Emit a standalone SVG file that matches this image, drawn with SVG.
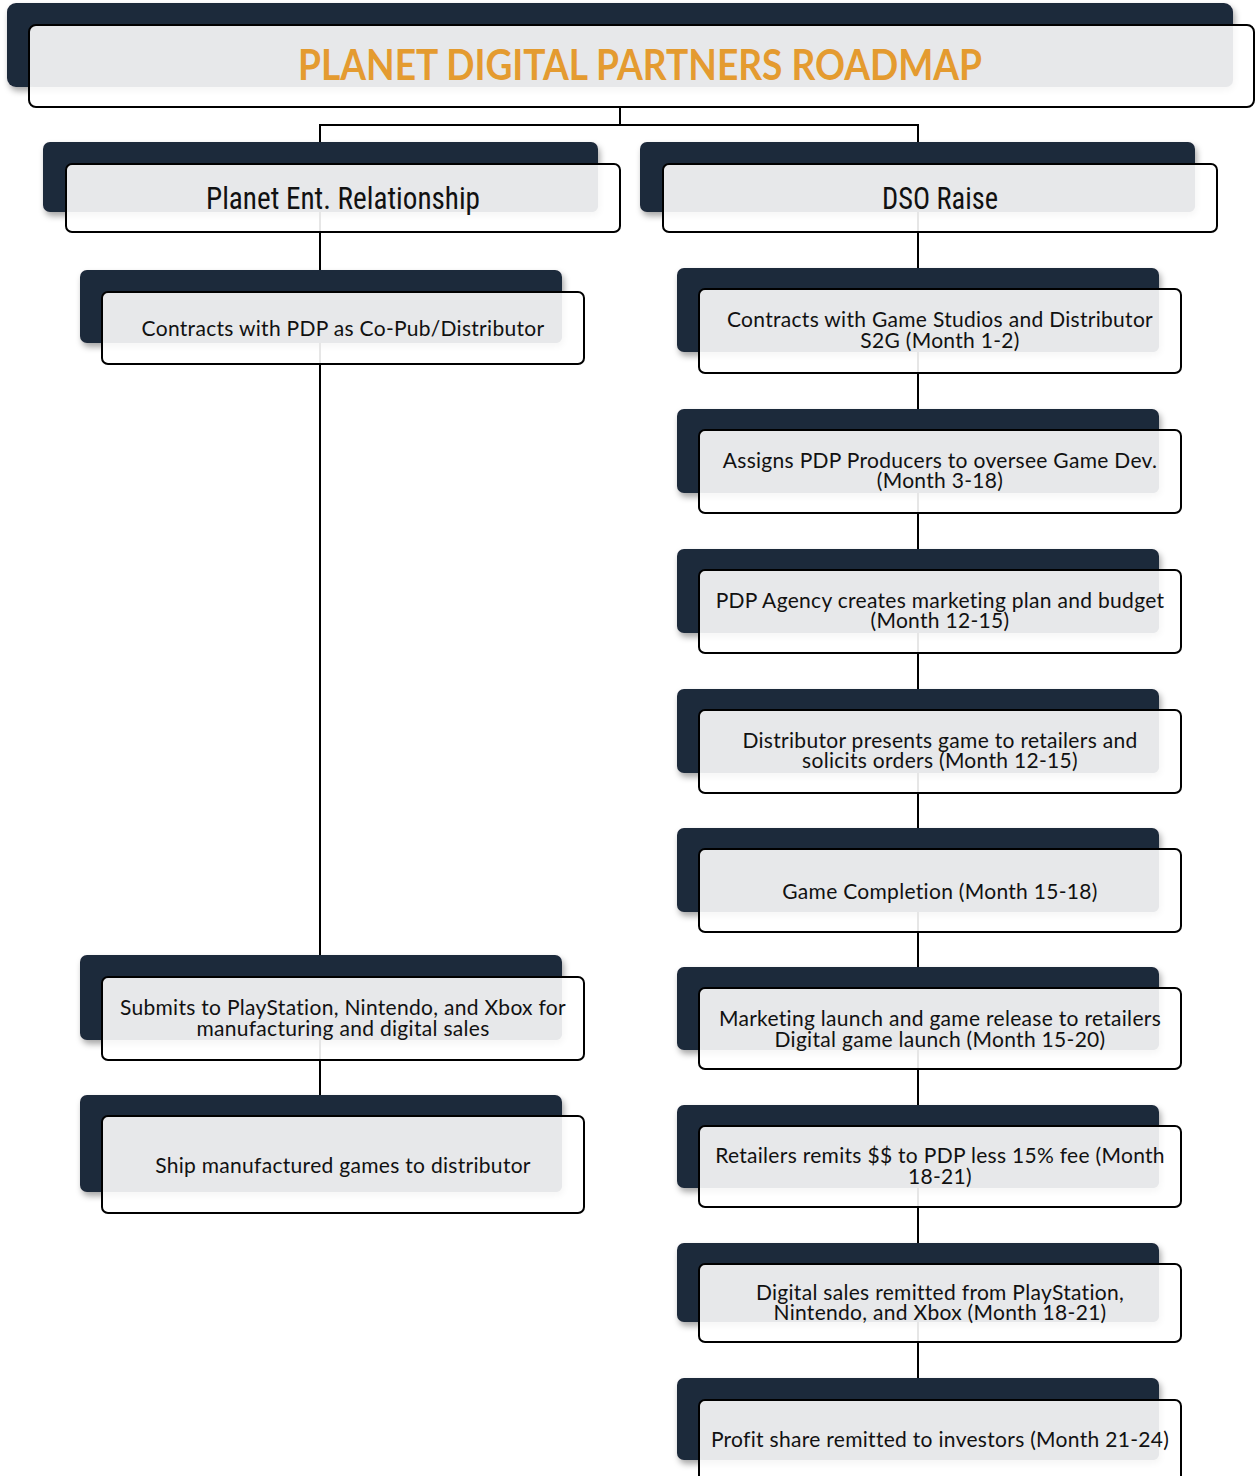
<svg xmlns="http://www.w3.org/2000/svg" width="1255" height="1476" viewBox="0 0 1255 1476">
<defs>
<filter id="sh" x="-10%" y="-20%" width="120%" height="160%">
<feDropShadow dx="2" dy="4" stdDeviation="3" flood-color="#000" flood-opacity="0.35"/>
</filter>
<style>
.dk{fill:#1e293b;filter:url(#sh)}
.wf{fill:#ffffff;fill-opacity:0.9}
.gr{fill:#e6e7e9;fill-opacity:0.92}
.ol{fill:none;stroke:#000;stroke-width:2}
.t{font-family:Lato,"Noto Sans",sans-serif;font-size:21px;letter-spacing:0.3px;fill:#111;text-anchor:middle}
.h{font-family:"Liberation Sans Narrow","Roboto Condensed",Roboto,sans-serif;font-size:31px;fill:#111;text-anchor:middle}
.ttl{font-family:Lato,"Liberation Sans",sans-serif;font-weight:700;font-size:42px;fill:#e49b30;text-anchor:middle}
.c{stroke:#000;stroke-width:2;fill:none}
</style>
</defs>
<rect width="1255" height="1476" fill="#fff"/>
<g id="connectors">
<path class="c" d="M620,106V125M320,125H918M320,124V1116M918,124V1400"/>
</g>
<g id="title">
<rect class="dk" x="7" y="3" width="1226" height="84" rx="9"/>
<rect class="wf" x="29" y="25" width="1225" height="82" rx="7"/>
<rect class="gr" x="29" y="25" width="1204" height="62" rx="7"/>
<rect class="ol" x="29" y="25" width="1225" height="82" rx="7"/>
<text class="ttl" x="640" y="80" textLength="684" lengthAdjust="spacingAndGlyphs">PLANET DIGITAL PARTNERS ROADMAP</text>
</g>
<g id="n-planet">
<rect class="dk" x="43" y="142" width="555" height="70" rx="7"/>
<rect class="wf" x="66" y="164" width="554" height="68" rx="6"/>
<rect class="gr" x="66" y="164" width="532" height="48" rx="6"/>
<rect class="ol" x="66" y="164" width="554" height="68" rx="6"/>
<text class="h" x="343" y="209" textLength="274" lengthAdjust="spacingAndGlyphs">Planet Ent. Relationship</text>
</g>
<g id="n-dso">
<rect class="dk" x="640" y="142" width="555" height="70" rx="7"/>
<rect class="wf" x="663" y="164" width="554" height="68" rx="6"/>
<rect class="gr" x="663" y="164" width="532" height="48" rx="6"/>
<rect class="ol" x="663" y="164" width="554" height="68" rx="6"/>
<text class="h" x="940" y="209" textLength="116" lengthAdjust="spacingAndGlyphs">DSO Raise</text>
</g>
<g id="l1">
<rect class="dk" x="80" y="270" width="482" height="73" rx="7"/>
<rect class="wf" x="102" y="292" width="482" height="72" rx="6"/>
<rect class="gr" x="102" y="292" width="460" height="51" rx="6"/>
<rect class="ol" x="102" y="292" width="482" height="72" rx="6"/>
<text class="t" x="343" y="336">Contracts with PDP as Co-Pub/Distributor</text>
</g>
<g id="l2">
<rect class="dk" x="80" y="955" width="482" height="85" rx="7"/>
<rect class="wf" x="102" y="977" width="482" height="83" rx="6"/>
<rect class="gr" x="102" y="977" width="460" height="63" rx="6"/>
<rect class="ol" x="102" y="977" width="482" height="83" rx="6"/>
<text class="t" x="343" y="1015">Submits to PlayStation, Nintendo, and Xbox for</text>
<text class="t" x="343" y="1036">manufacturing and digital sales</text>
</g>
<g id="l3">
<rect class="dk" x="80" y="1095" width="482" height="97" rx="7"/>
<rect class="wf" x="102" y="1116" width="482" height="97" rx="6"/>
<rect class="gr" x="102" y="1116" width="460" height="76" rx="6"/>
<rect class="ol" x="102" y="1116" width="482" height="97" rx="6"/>
<text class="t" x="343" y="1173">Ship manufactured games to distributor</text>
</g>
<g id="r1">
<rect class="dk" x="677" y="268" width="482" height="84" rx="7"/>
<rect class="wf" x="699" y="289" width="482" height="84" rx="6"/>
<rect class="gr" x="699" y="289" width="460" height="63" rx="6"/>
<rect class="ol" x="699" y="289" width="482" height="84" rx="6"/>
<text class="t" x="940" y="327">Contracts with Game Studios and Distributor</text>
<text class="t" x="940" y="348">S2G (Month 1-2)</text>
</g>
<g id="r2">
<rect class="dk" x="677" y="409" width="482" height="84" rx="7"/>
<rect class="wf" x="699" y="430" width="482" height="83" rx="6"/>
<rect class="gr" x="699" y="430" width="460" height="63" rx="6"/>
<rect class="ol" x="699" y="430" width="482" height="83" rx="6"/>
<text class="t" x="940" y="468">Assigns PDP Producers to oversee Game Dev.</text>
<text class="t" x="940" y="488">(Month 3-18)</text>
</g>
<g id="r3">
<rect class="dk" x="677" y="549" width="482" height="84" rx="7"/>
<rect class="wf" x="699" y="570" width="482" height="83" rx="6"/>
<rect class="gr" x="699" y="570" width="460" height="63" rx="6"/>
<rect class="ol" x="699" y="570" width="482" height="83" rx="6"/>
<text class="t" x="940" y="608">PDP Agency creates marketing plan and budget</text>
<text class="t" x="940" y="628">(Month 12-15)</text>
</g>
<g id="r4">
<rect class="dk" x="677" y="689" width="482" height="84" rx="7"/>
<rect class="wf" x="699" y="710" width="482" height="83" rx="6"/>
<rect class="gr" x="699" y="710" width="460" height="63" rx="6"/>
<rect class="ol" x="699" y="710" width="482" height="83" rx="6"/>
<text class="t" x="940" y="748">Distributor presents game to retailers and</text>
<text class="t" x="940" y="768">solicits orders (Month 12-15)</text>
</g>
<g id="r5">
<rect class="dk" x="677" y="828" width="482" height="84" rx="7"/>
<rect class="wf" x="699" y="849" width="482" height="83" rx="6"/>
<rect class="gr" x="699" y="849" width="460" height="63" rx="6"/>
<rect class="ol" x="699" y="849" width="482" height="83" rx="6"/>
<text class="t" x="940" y="899">Game Completion (Month 15-18)</text>
</g>
<g id="r6">
<rect class="dk" x="677" y="967" width="482" height="83" rx="7"/>
<rect class="wf" x="699" y="988" width="482" height="81" rx="6"/>
<rect class="gr" x="699" y="988" width="460" height="62" rx="6"/>
<rect class="ol" x="699" y="988" width="482" height="81" rx="6"/>
<text class="t" x="940" y="1026">Marketing launch and game release to retailers</text>
<text class="t" x="940" y="1047">Digital game launch (Month 15-20)</text>
</g>
<g id="r7">
<rect class="dk" x="677" y="1105" width="482" height="83" rx="7"/>
<rect class="wf" x="699" y="1126" width="482" height="81" rx="6"/>
<rect class="gr" x="699" y="1126" width="460" height="62" rx="6"/>
<rect class="ol" x="699" y="1126" width="482" height="81" rx="6"/>
<text class="t" x="940" y="1163">Retailers remits $$ to PDP less 15% fee (Month</text>
<text class="t" x="940" y="1184">18-21)</text>
</g>
<g id="r8">
<rect class="dk" x="677" y="1243" width="482" height="79" rx="7"/>
<rect class="wf" x="699" y="1264" width="482" height="78" rx="6"/>
<rect class="gr" x="699" y="1264" width="460" height="58" rx="6"/>
<rect class="ol" x="699" y="1264" width="482" height="78" rx="6"/>
<text class="t" x="940" y="1300">Digital sales remitted from PlayStation,</text>
<text class="t" x="940" y="1320">Nintendo, and Xbox (Month 18-21)</text>
</g>
<g id="r9">
<rect class="dk" x="677" y="1378" width="482" height="82" rx="7"/>
<rect class="wf" x="699" y="1400" width="482" height="82" rx="6"/>
<rect class="gr" x="699" y="1400" width="460" height="60" rx="6"/>
<rect class="ol" x="699" y="1400" width="482" height="82" rx="6"/>
<text class="t" x="940" y="1447">Profit share remitted to investors (Month 21-24)</text>
</g>
</svg>
